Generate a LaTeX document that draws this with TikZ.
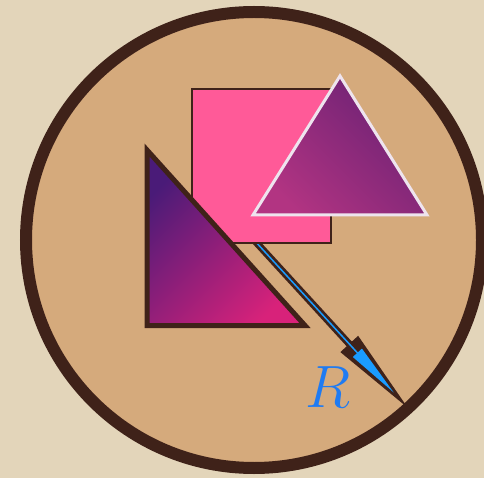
\documentclass[tikz,border=0pt]{standalone}
\usepackage{graphicx}
\usepackage{tikz}
\usetikzlibrary{calc, arrows.meta}

\definecolor{parchment}{HTML}{E3D5BA}
\definecolor{tan}{HTML}{D5AA7C}
\definecolor{umber}{HTML}{3F2219}
\definecolor{hotpink}{HTML}{FF5A98}
\definecolor{deeppurple}{HTML}{4A1B78}
\definecolor{magentared}{HTML}{D8227A}
\definecolor{plum}{HTML}{6A2174}
\definecolor{orchid}{HTML}{B23482}
\definecolor{lavwhite}{HTML}{EEE4EE}
\definecolor{skyblue}{HTML}{1A9CFF}
\definecolor{radblue}{HTML}{1F7BF2}

\begin{document}
\begin{tikzpicture}[
    x=1pt, y=-1pt,
    disc/.style={
        draw=umber,
        fill=tan,
        line width=12pt
    },
    sqbox/.style={
        draw=umber,
        fill=hotpink,
        line width=2.2pt
    },
    righttri/.style={
        draw=umber,
        line width=5pt,
        top color=deeppurple,
        bottom color=magentared,
        shading angle=45
    },
    eqtri/.style={
        draw=lavwhite,
        line width=3pt,
        top color=plum,
        bottom color=orchid,
        shading angle=-45
    },
    radshaft/.style={umber, line width=7pt, -{Triangle[length=90pt, width=22pt]}},
    radcore/.style={skyblue, line width=1.5pt, shorten >=24pt, -{Triangle[length=54pt, width=12pt]}}
]

% Background
\fill[parchment] (0,0) rectangle (484,478);
\useasboundingbox (0,0) rectangle (484,478);

% Circle
\coordinate (c) at (254,240);
\coordinate (rim) at ($(c)+(47.5:231)$);
\draw[disc] (c) circle (228);

% Radius
\draw[radshaft] (c) -- (rim);
\draw[radcore] (c) -- (rim);
\node[text=radblue] (rlabel) at (328,387) {\scalebox{2.4}{\Huge$R$}};

% Square
\draw[sqbox] (192,89) rectangle (331,243);

% Right triangle
\draw[righttri] (147,150) -- (147,325.5) -- (305,325.5) -- cycle;

% Equilateral triangle
\draw[eqtri] (340,76) -- (427,215) -- (253,215) -- cycle;
\end{tikzpicture}
\end{document}
